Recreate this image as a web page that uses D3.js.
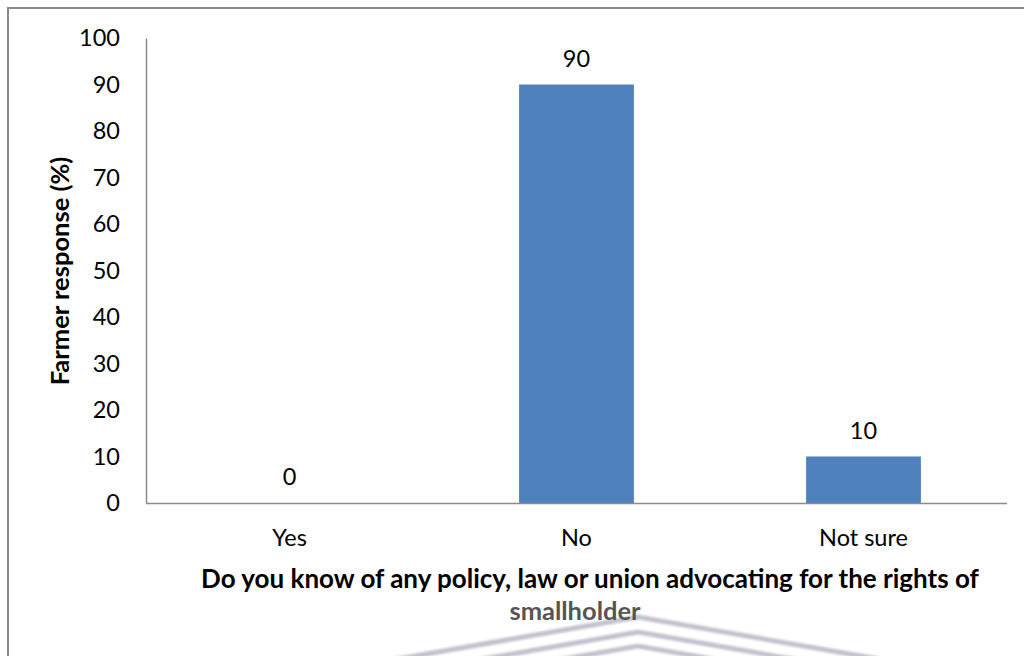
<!DOCTYPE html>
<html><head><meta charset="utf-8">
<script src="https://cdn.jsdelivr.net/npm/d3@7"></script>
<style>
html,body{margin:0;padding:0;background:#fff;}
svg{display:block;font-family:Lato,"Open Sans",sans-serif;}
</style></head>
<body>
<svg id="chart" width="1024" height="656"></svg>
<script>
const categories = ["Yes", "No", "Not sure"];
const values = [0, 90, 10];
const yTicks = [0, 10, 20, 30, 40, 50, 60, 70, 80, 90, 100];
const yTitle = "Farmer response (%)";
const xTitleLines = ["Do you know of any policy, law or union advocating for the rights of", "smallholder"];

const svg = d3.select("#chart");
const FONT = "Lato,'Open Sans',sans-serif";

// watermark chevrons (background)
const defs = svg.append("defs");
defs.append("filter").attr("id","blur").append("feGaussianBlur").attr("stdDeviation",1);
const wm = svg.append("g").attr("fill","none").attr("stroke","#c2c2ce").attr("stroke-width",5)
  .attr("stroke-linecap","round").attr("filter","url(#blur)");
[[638,617],[638,632],[638,646]].forEach(([ax,ay])=>{
  wm.append("path").attr("d",`M${ax-240},${ay+42} L${ax},${ay} L${ax+240},${ay+42}`);
});

// outer frame
svg.append("rect").attr("x",8).attr("y",8).attr("width",1040).attr("height",680)
  .attr("fill","none").attr("stroke","#8a8a8a").attr("stroke-width",2);

const x0 = 146, x1 = 1007, yBottom = 503, yTop = 38;
const x = d3.scaleBand().domain(categories).range([x0, x1]).paddingInner(0.6).paddingOuter(0.3);
const y = d3.scaleLinear().domain([0, 100]).range([yBottom, yTop]);

// bars
svg.append("g").selectAll("rect").data(categories).join("rect")
  .attr("x", d => x(d)).attr("width", x.bandwidth())
  .attr("y", (d,i) => y(values[i])).attr("height", (d,i) => yBottom - y(values[i]))
  .attr("fill", "#4f81bd");

// y axis
const yAxis = d3.axisLeft(y).tickValues(yTicks).tickSize(0).tickPadding(26);
const gy = svg.append("g").attr("transform", `translate(${x0},0)`).call(yAxis);
gy.select(".domain").attr("stroke","#8c8c8c").attr("stroke-width",1.5);
gy.selectAll("text").attr("font-size",23.5).attr("fill","#000").attr("font-family",FONT);

// x axis
const xAxis = d3.axisBottom(x).tickSize(0).tickPadding(26);
const gx = svg.append("g").attr("transform", `translate(0,${yBottom})`).call(xAxis);
gx.select(".domain").attr("d", `M${x0},0.5H${x1}`).attr("stroke","#8c8c8c").attr("stroke-width",1.5);
gx.selectAll("text").attr("font-size",23.5).attr("fill","#000").attr("font-family",FONT);

// data labels
svg.append("g").selectAll("text").data(categories).join("text")
  .attr("x", d => x(d) + x.bandwidth()/2)
  .attr("y", (d,i) => y(values[i]) - 18)
  .attr("text-anchor","middle").attr("font-size",23.5).attr("fill","#000")
  .text((d,i) => values[i]);

// y title
svg.append("text").attr("transform","translate(69,271) rotate(-90)")
  .attr("text-anchor","middle").attr("font-size",25.5).attr("font-weight","bold").attr("fill","#000")
  .text(yTitle);

// x title
svg.append("text").attr("x",590).attr("y",588).attr("text-anchor","middle")
  .attr("font-size",26).attr("font-weight","bold").attr("fill","#000").text(xTitleLines[0]);
svg.append("text").attr("x",575).attr("y",620).attr("text-anchor","middle")
  .attr("font-size",25.5).attr("font-weight","bold").attr("fill","#555").text(xTitleLines[1]);
</script>
</body></html>
